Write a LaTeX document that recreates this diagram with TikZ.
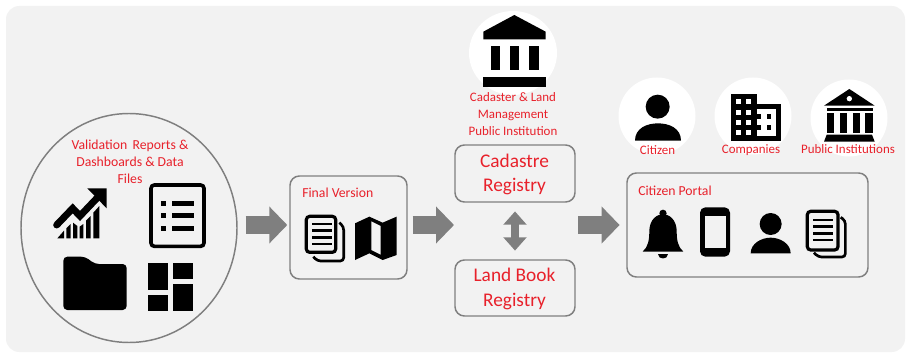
\documentclass[tikz,border=0pt]{standalone}
\usepackage{fontspec}
\setmainfont{Carlito}
\usetikzlibrary{arrows.meta,shapes.geometric}
\definecolor{bgc}{HTML}{F2F2F2}
\definecolor{edge}{HTML}{7F7F7F}
\definecolor{lab}{HTML}{E8212B}
\tikzset{
 frame/.style={draw=edge,line width=1.1pt,rounded corners=7pt,inner sep=0pt},
 blockarrow/.style={draw=edge,line width=13pt,-{Triangle[length=13.5pt,width=27pt]}},
 bothway/.style={draw=edge,line width=6.5pt,{Triangle[length=10pt,width=17pt]}-{Triangle[length=10pt,width=17pt]},shorten <=6.5pt,shorten >=6.5pt},
 lbl/.style={text=lab,align=center,inner sep=0pt,font=\fontsize{9.7}{12.6}\selectfont},
 lblbig/.style={text=lab,align=center,inner sep=0pt,font=\fontsize{10.3}{12.9}\selectfont},
 big/.style={text=lab,align=center,inner sep=0pt,font=\fontsize{14.5}{18.6}\selectfont},
 white disc/.style={fill=white,draw=none},
 zA/.style={shift={(0,100)},x=.25pt,y=-.25pt},
 zB/.style={shift={(280,0)},x=.25pt,y=-.25pt},
 zC/.style={shift={(600,70)},x=.25pt,y=-.25pt},
 ink/.style={fill=black,draw=none},
 outl/.style={draw=black,line width=2.4pt,rounded corners=2.5pt}
}
\begin{document}
\begin{tikzpicture}[x=.75pt,y=-.75pt]
\useasboundingbox (0,0) rectangle (907,353);
\fill[white] (0,0) rectangle (907,353);
\fill[bgc,rounded corners=10pt] (6,6) rectangle (905,352);

% white discs
\fill[white disc] (513,53) ellipse [x radius=44,y radius=42];
\fill[white disc] (657,116) circle (38.5);
\fill[white disc] (753,116) circle (38.5);
\fill[white disc] (849,118) circle (38.5);

% main nodes
\node[draw=edge,line width=1.1pt,ellipse,inner sep=0pt,minimum width=162pt,minimum height=171.75pt] (src) at (129,228) {};
\node[frame,minimum width=87.75pt,minimum height=77.25pt] (final) at (348.5,227.5) {};
\node[frame,minimum width=90pt,minimum height=42.75pt] (cad) at (515,173.5) {};
\node[frame,minimum width=90pt,minimum height=42pt] (land) at (515,288) {};
\node[frame,minimum width=180.75pt,minimum height=78pt] (portal) at (747.5,225) {};
\coordinate (regW) at (455,225);
\coordinate (regE) at (575,225);

% connectors
\draw[blockarrow,shorten <=6pt,shorten >=1.5pt] (src.east |- regW) -- (final.west |- regW);
\draw[blockarrow,shorten <=3.75pt,shorten >=.75pt] (final.east |- regW) -- (regW);
\draw[blockarrow,shorten <=2.25pt,shorten >=5pt] (regE) -- (portal.west |- regE);
\draw[bothway] (cad.south) -- (land.north);

% labels
\node[lblbig] (t1) at (130,162) {Validation\, Reports \&\\Dashboards \& Data\\Files};
\node[lblbig,anchor=west] (t2) at (302,192.5) {Final Version};
\node[lbl] (t3) at (513,114) {Cadaster \& Land\\Management\\Public Institution};
\node[big] (t4) at (514.5,174.5) {Cadastre\\Registry};
\node[big] (t5) at (514.5,289) {Land Book\\Registry};
\node[lblbig,anchor=west] (t6) at (638,190.5) {Citizen Portal};
\node[lbl] (t7) at (657.5,150.5) {Citizen};
\node[lbl] (t8) at (751,150.5) {Companies};
\node[lbl] (t9) at (848,149) {Public Institutions};

% ---- icons, left circle
\begin{scope}[zA]
 % trend
 \draw[black,line width=5.2pt,line cap=round,line join=miter] (170,375) -- (218,325) -- (240,348) -- (295,290);
 \fill[ink] (262,265) -- (320,265) -- (320,325) -- cycle;
 \fill[ink] (172,415) -- (192,392) -- (192,415) -- cycle;
 \fill[ink] (199,385) -- (212,372) -- (212,415) -- (199,415) -- cycle;
 \fill[ink] (219,368) -- (232,378) -- (232,415) -- (219,415) -- cycle;
 \fill[ink] (239,380) -- (250,372) -- (250,415) -- (239,415) -- cycle;
 \fill[ink] (258,362) -- (272,348) -- (272,415) -- (258,415) -- cycle;
 \fill[ink] (280,338) -- (298,318) -- (298,415) -- (280,415) -- cycle;
 % list
 \draw[black,line width=2.7pt,rounded corners=2.5pt] (453,255) rectangle (612,439);
 \foreach \yy in {310,347,385}{
  \fill[ink] (483,\yy-7) rectangle (497,\yy+7);
  \fill[ink] (515,\yy-7) rectangle (583,\yy+7);
 }
 % folder
 \fill[ink,rounded corners=3pt] (190,630) -- (190,470) -- (255,470) -- (285,492) -- (380,492) -- (380,630) -- cycle;
 % dashboard
 \fill[ink] (443,488) rectangle (503,570);
 \fill[ink] (520,488) rectangle (580,537);
 \fill[ink] (443,585) rectangle (503,633);
 \fill[ink] (520,553) rectangle (580,633);
\end{scope}

% ---- icons, middle
\begin{scope}[zB]
 % documents
 \draw[outl] (79,649) rectangle (167,757);
 \foreach \yy in {672,692,712,732}{\fill[ink] (95,\yy-4) rectangle (155,\yy+4);}
 \draw[black,line width=2pt,rounded corners=2.5pt] (178,668) -- (191,680) -- (191,783) -- (112,783) -- (100,770);
 % map
 \fill[ink] (225,670) -- (268,650) -- (308,668) -- (350,650) -- (350,765) -- (308,780) -- (268,760) -- (225,780) -- cycle;
 \fill[bgc] (274,664) -- (302,678) -- (302,764) -- (274,750) -- cycle;
 % institution
 \fill[ink] (610,95) -- (703,45) -- (797,95) -- (797,118) -- (610,118) -- cycle;
 \fill[ink] (632,138) rectangle (660,210);
 \fill[ink] (690,138) rectangle (718,210);
 \fill[ink] (748,138) rectangle (777,210);
 \fill[ink] (610,232) rectangle (797,262);
\end{scope}

% ---- icons, right
\begin{scope}[zC]
 % citizen
 \fill[ink] (173,110) circle [radius=9pt];
 \fill[ink] (105,212) .. controls (105,175) and (140,160) .. (174,160) .. controls (208,160) and (243,175) .. (243,212) -- cycle;
 % companies
 \fill[ink] (392,72) rectangle (470,212);
 \fill[ink] (470,102) rectangle (543,212);
 \foreach \xx in {408,438}{\foreach \yy in {87,120,150,180}{\fill[white] (\xx,\yy) rectangle (\xx+14,\yy+14);}}
 \fill[white] (470,118) rectangle (528,197);
 \foreach \yy in {132,165}{\fill[ink] (500,\yy) rectangle (514,\yy+14);\fill[ink] (470,\yy) rectangle (484,\yy+14);}
 % public institution
 \fill[ink] (672,107) -- (748,57) -- (824,107) -- cycle;
 \fill[white] (748,86) circle [radius=2pt];
 \fill[ink] (680,113) rectangle (818,122);
 \foreach \xx in {680,720,758,796}{\fill[ink] (\xx,128) rectangle (\xx+22,188);}
 \fill[ink] (680,194) -- (816,194) -- (824,215) -- (672,215) -- cycle;
 % bell
 \fill[ink] (189,430) circle [radius=2.75pt];
 \fill[ink] (128,545) .. controls (145,530) and (148,510) .. (148,480) .. controls (150,448) and (170,433) .. (189,433) .. controls (208,433) and (228,448) .. (230,480) .. controls (230,510) and (233,530) .. (250,545) -- cycle;
 \fill[ink] (175,552) -- (203,552) .. controls (203,570) and (175,570) .. (175,552) -- cycle;
 % phone
 \fill[ink,rounded corners=4pt] (300,412) rectangle (390,560);
 \fill[bgc] (315,438) rectangle (378,535);
 % person
 \fill[ink] (512,462) circle [radius=8.25pt];
 \fill[ink] (452,550) .. controls (452,520) and (485,503) .. (512,503) .. controls (539,503) and (572,520) .. (572,550) -- cycle;
 % documents
 \draw[outl] (622,424) rectangle (714,540);
 \foreach \yy in {450,470,490,510}{\fill[ink] (640,\yy-4) rectangle (698,\yy+4);}
 \draw[black,line width=2pt,rounded corners=2.5pt] (722,442) -- (736,452) -- (736,561) -- (655,561) -- (642,548);
\end{scope}
\end{tikzpicture}
\end{document}
